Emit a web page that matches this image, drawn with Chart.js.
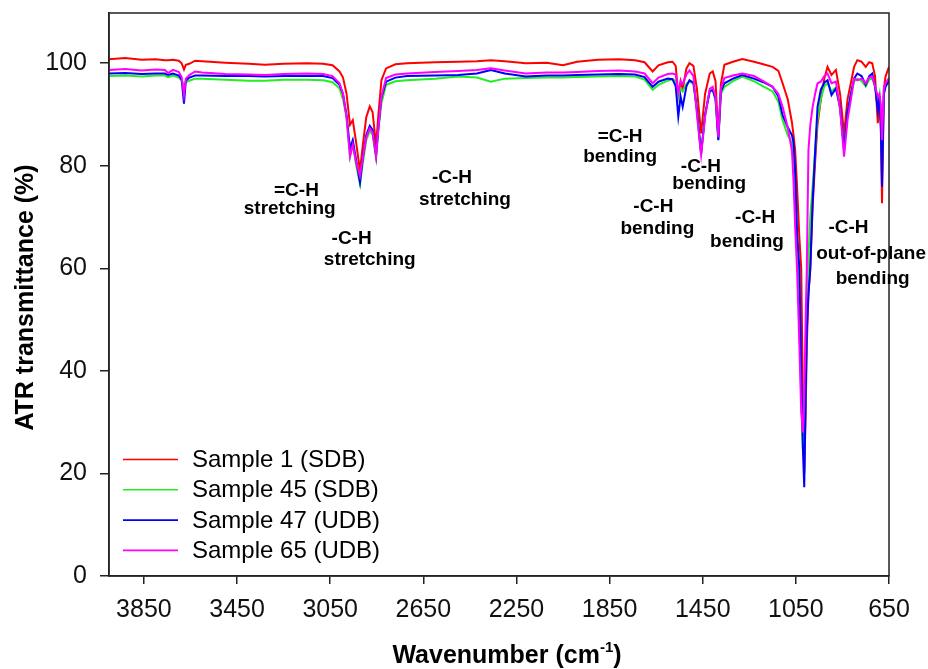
<!DOCTYPE html>
<html>
<head>
<meta charset="utf-8">
<script src="https://cdn.jsdelivr.net/npm/chart.js@4.4.1/dist/chart.umd.min.js"></script>
<style>
  html, body { margin: 0; padding: 0; background: #fff; }
  #wrap { width: 928px; height: 669px; position: relative; }
</style>
</head>
<body>
<div id="wrap"><canvas id="ftir"></canvas></div>
<script>
// wavenumbers (cm-1)
const wavenumbers = [
  4000, 3930, 3860, 3800, 3760, 3746, 3725, 3700, 3688, 3678, 3670, 3655, 3630, 3600,
  3500, 3400, 3330, 3250, 3150, 3080, 3040, 3010, 2995, 2980, 2965, 2953, 2940, 2922,
  2910, 2895, 2880, 2868, 2853, 2843, 2830, 2810, 2770, 2720, 2600, 2500, 2420, 2360,
  2300, 2210, 2120, 2050, 1990, 1900, 1810, 1740, 1700, 1665, 1640, 1600, 1580, 1566,
  1555, 1545, 1536, 1520, 1507, 1490, 1475, 1457, 1440, 1420, 1407, 1395, 1383, 1372,
  1357, 1320, 1280, 1230, 1190, 1150, 1125, 1107, 1085, 1067, 1060, 1053, 1045, 1035,
  1027, 1020, 1014, 1008, 1003, 996, 988, 978, 967, 957, 943, 928, 914, 897,
  878, 860, 843, 828, 814, 800, 786, 768, 750, 735, 722, 710, 698, 691,
  685, 680, 672, 665, 650
];

const sample1 = [
  100.8, 101.0, 100.7, 100.8, 100.6, 100.6, 100.7, 100.5, 100.0, 98.8, 99.7, 99.9, 100.5, 100.4,
  100.1, 99.9, 99.7, 99.9, 100.0, 99.9, 99.6, 98.4, 97.2, 94.1, 88.0, 88.9, 85.0, 79.0,
  84.0, 89.5, 91.6, 90.5, 84.0, 90.0, 96.7, 99.0, 99.8, 100.0, 100.2, 100.3, 100.4, 100.6,
  100.4, 100.0, 100.1, 99.6, 100.3, 100.7, 100.8, 100.6, 100.2, 98.4, 99.6, 100.2, 100.3, 99.5,
  93.8, 96.5, 95.0, 99.0, 100.0, 99.5, 95.0, 86.3, 94.0, 98.0, 98.4, 96.5, 85.6, 96.0,
  99.7, 100.3, 100.8, 100.3, 99.8, 99.3, 98.5, 96.1, 93.0, 88.5, 86.0, 83.0, 76.0, 66.0,
  60.0, 35.0, 20.0, 32.0, 45.0, 55.0, 60.0, 72.0, 81.0, 88.0, 92.8, 97.0, 99.3, 97.7,
  98.7, 94.0, 86.3, 93.0, 96.1, 99.3, 100.6, 100.3, 99.3, 100.2, 100.0, 97.5, 88.3, 93.5,
  88.0, 72.7, 95.0, 97.4, 99.3
];

const sample45 = [
  97.5, 97.6, 97.4, 97.6, 97.6, 97.3, 97.6, 97.2, 96.6, 95.8, 96.3, 96.6, 97.0, 97.0,
  96.8, 96.6, 96.6, 96.8, 96.8, 96.7, 96.3, 95.1, 93.0, 89.5, 81.8, 84.5, 80.5, 76.4,
  80.5, 85.0, 86.8, 86.0, 81.5, 87.0, 92.2, 95.8, 96.5, 96.7, 97.0, 97.4, 97.2, 96.4,
  97.0, 97.1, 97.2, 97.2, 97.3, 97.4, 97.5, 97.4, 96.8, 94.8, 95.8, 96.6, 96.9, 96.5,
  93.2, 95.0, 94.5, 96.0, 96.4, 96.0, 91.0, 82.5, 90.0, 94.5, 94.8, 93.0, 85.2, 94.0,
  95.4, 96.5, 97.4, 96.5, 95.5, 94.5, 92.5, 88.9, 86.0, 84.5, 83.0, 76.0, 65.0, 50.0,
  35.0, 25.0, 23.0, 40.0, 52.0, 62.0, 70.0, 76.0, 83.1, 89.0, 93.0, 95.5, 96.1, 94.5,
  95.3, 91.0, 83.7, 90.0, 93.5, 96.5, 97.0, 96.5, 95.5, 96.8, 97.0, 95.5, 92.5, 94.0,
  90.0, 83.0, 94.0, 95.5, 96.3
];

const sample47 = [
  98.0, 98.1, 97.9, 98.0, 98.0, 97.7, 98.0, 97.6, 96.8, 92.1, 96.6, 97.2, 97.6, 97.6,
  97.5, 97.5, 97.4, 97.5, 97.5, 97.5, 97.1, 95.8, 94.0, 90.0, 83.4, 85.0, 81.5, 76.8,
  81.5, 86.0, 87.8, 87.0, 82.1, 87.5, 93.3, 96.4, 97.2, 97.5, 97.6, 97.7, 98.0, 98.7,
  98.0, 97.4, 97.6, 97.6, 97.7, 97.8, 97.9, 97.8, 97.3, 95.4, 96.4, 97.0, 96.9, 95.5,
  89.6, 93.5, 91.5, 95.5, 96.7, 96.2, 91.0, 82.3, 90.0, 94.5, 94.8, 93.0, 85.0, 94.5,
  96.1, 97.0, 97.7, 97.0, 96.3, 95.4, 93.5, 89.9, 87.5, 86.0, 84.5, 79.0, 67.0, 60.0,
  40.0, 25.0, 17.3, 35.0, 48.0, 55.0, 60.0, 73.0, 83.0, 91.5, 94.8, 96.2, 96.7, 93.8,
  95.1, 91.5, 83.1, 90.5, 94.0, 97.0, 98.0, 97.5, 95.8, 97.5, 98.0, 95.5, 90.9, 93.5,
  87.0, 75.9, 94.0, 95.4, 96.7
];

const sample65 = [
  98.7, 98.9, 98.6, 98.8, 98.7, 98.1, 98.7, 98.3, 97.3, 93.8, 97.0, 97.7, 98.4, 98.2,
  97.9, 97.8, 97.7, 97.9, 98.0, 97.9, 97.5, 96.1, 94.0, 89.6, 81.8, 84.1, 81.0, 78.0,
  81.5, 85.5, 87.3, 86.5, 81.8, 87.5, 93.5, 97.1, 97.8, 98.0, 98.3, 98.5, 98.7, 99.0,
  98.6, 98.0, 98.2, 98.2, 98.3, 98.5, 98.6, 98.4, 98.0, 96.1, 97.2, 97.9, 98.0, 97.8,
  94.1, 96.5, 96.0, 97.8, 98.6, 97.5, 90.0, 82.1, 89.5, 95.0, 95.4, 93.5, 85.6, 95.0,
  97.1, 97.6, 98.0, 97.5, 96.5, 95.4, 94.0, 91.5, 87.5, 83.0, 77.0, 68.0, 60.0, 45.0,
  32.0, 28.0, 35.0, 50.0, 60.0, 83.0, 88.0, 91.5, 94.1, 96.1, 96.4, 97.5, 98.0, 96.1,
  96.4, 91.0, 81.8, 89.0, 92.8, 97.0, 96.7, 97.0, 96.1, 97.2, 97.4, 95.5, 93.5, 94.0,
  92.0, 85.0, 95.0, 96.1, 97.1
];

const seriesNames = ["Sample 1 (SDB)", "Sample 45 (SDB)", "Sample 47 (UDB)", "Sample 65 (UDB)"];
const seriesColors = ["#ff0000", "#22ee22", "#0000ff", "#ff00ff"];

const xTicks = [3850, 3450, 3050, 2650, 2250, 1850, 1450, 1050, 650];
const yTicks = [0, 20, 40, 60, 80, 100];

// band labels, placed in data units (wavenumber, transmittance)
const bandLabels = [
  { w: 3195, v: 75.1, text: "=C-H" },
  { w: 3224, v: 71.6, text: "stretching" },
  { w: 2958, v: 65.7, text: "-C-H" },
  { w: 2880, v: 61.6, text: "stretching" },
  { w: 2527, v: 77.6, text: "-C-H" },
  { w: 2471, v: 73.3, text: "stretching" },
  { w: 1805, v: 85.6, text: "=C-H" },
  { w: 1805, v: 81.7, text: "bending" },
  { w: 1662, v: 72.0, text: "-C-H" },
  { w: 1645, v: 67.8, text: "bending" },
  { w: 1458, v: 79.8, text: "-C-H" },
  { w: 1422, v: 76.4, text: "bending" },
  { w: 1225, v: 69.8, text: "-C-H" },
  { w: 1260, v: 65.1, text: "bending" },
  { w: 824, v: 67.9, text: "-C-H" },
  { w: 727, v: 62.8, text: "out-of-plane" },
  { w: 720, v: 58.0, text: "bending" }
];

const FONT = "Arial, 'Liberation Sans', Helvetica, sans-serif";

const allSeries = [sample1, sample45, sample47, sample65];

const datasets = allSeries.map((vals, k) => ({
  label: seriesNames[k],
  data: wavenumbers.map((w, i) => ({ x: w, y: vals[i] })),
  borderColor: seriesColors[k],
  borderWidth: 2,
  pointRadius: 0,
  tension: 0,
  fill: false,
  order: 4 - k
}));

/* ==============================
   extras: frame, labels, legend, titles
============================== */
const decor = {
  id: "decor",
  afterDatasetsDraw(chart) {
    const { ctx, chartArea: a, scales } = chart;
    const xs = scales.x, ys = scales.y;
    ctx.save();

    // frame
    ctx.strokeStyle = "#222";
    ctx.lineWidth = 1.5;
    ctx.strokeRect(a.left, a.top, a.right - a.left, a.bottom - a.top);

    // band labels
    ctx.fillStyle = "#000";
    ctx.font = "bold 19px " + FONT;
    ctx.textAlign = "center";
    ctx.textBaseline = "middle";
    bandLabels.forEach(l => {
      ctx.fillText(l.text, xs.getPixelForValue(l.w), ys.getPixelForValue(l.v));
    });

    // legend
    ctx.font = "24px " + FONT;
    ctx.textAlign = "left";
    seriesNames.forEach((name, k) => {
      const y = 459.5 + k * 30.3;
      ctx.strokeStyle = seriesColors[k];
      ctx.lineWidth = 1.6;
      ctx.beginPath();
      ctx.moveTo(123, y);
      ctx.lineTo(178, y);
      ctx.stroke();
      ctx.fillStyle = "#000";
      ctx.fillText(name, 192, y + 1);
    });

    // y title
    ctx.font = "bold 25px " + FONT;
    ctx.textAlign = "center";
    ctx.textBaseline = "middle";
    ctx.save();
    ctx.translate(26, (a.top + a.bottom) / 2 + 3);
    ctx.rotate(-Math.PI / 2);
    ctx.fillText("ATR transmittance (%)", 0, 0);
    ctx.restore();

    // x title with superscript
    const main = "Wavenumber (cm", sup = "-1", tail = ")";
    ctx.textBaseline = "alphabetic";
    ctx.textAlign = "left";
    ctx.font = "bold 25px " + FONT;
    const wMain = ctx.measureText(main).width;
    const wTail = ctx.measureText(tail).width;
    ctx.font = "bold 15px " + FONT;
    const wSup = ctx.measureText(sup).width;
    let x = (a.left + a.right) / 2 + 8 - (wMain + wSup + wTail) / 2;
    const base = 663;
    ctx.font = "bold 25px " + FONT;
    ctx.fillText(main, x, base);
    x += wMain;
    ctx.font = "bold 15px " + FONT;
    ctx.fillText(sup, x, base - 11);
    x += wSup;
    ctx.font = "bold 25px " + FONT;
    ctx.fillText(tail, x, base);

    ctx.restore();
  }
};

new Chart(document.getElementById("ftir"), {
  type: "line",
  data: { datasets },
  options: {
    responsive: true,
    maintainAspectRatio: false,
    animation: false,
    layout: { padding: { left: 0, top: 13, right: 39, bottom: 0 } },
    plugins: {
      legend: { display: false },
      tooltip: { enabled: false }
    },
    scales: {
      x: {
        type: "linear",
        reverse: true,
        min: 650,
        max: 4000,
        afterBuildTicks: s => { s.ticks = xTicks.map(v => ({ value: v })); },
        afterFit: s => { s.height = 93; s.paddingLeft = 0; s.paddingRight = 0; },
        grid: { drawOnChartArea: false, tickLength: 8, color: "#222", lineWidth: 1.5 },
        border: { display: true, color: "#222", width: 1.5 },
        ticks: {
          maxRotation: 0,
          autoSkip: false,
          padding: 11,
          color: "#111",
          font: { family: FONT, size: 25 },
          callback: v => String(v)
        }
      },
      y: {
        min: 0,
        max: 109.8,
        afterBuildTicks: s => { s.ticks = yTicks.map(v => ({ value: v })); },
        afterFit: s => { s.width = 109; s.paddingTop = 0; s.paddingBottom = 0; },
        grid: { drawOnChartArea: false, tickLength: 9, color: "#222", lineWidth: 1.5 },
        border: { display: true, color: "#222", width: 1.5 },
        ticks: {
          padding: 13,
          color: "#111",
          font: { family: FONT, size: 25 },
          callback: v => String(v)
        }
      }
    }
  },
  plugins: [decor]
});
</script>
</body>
</html>
